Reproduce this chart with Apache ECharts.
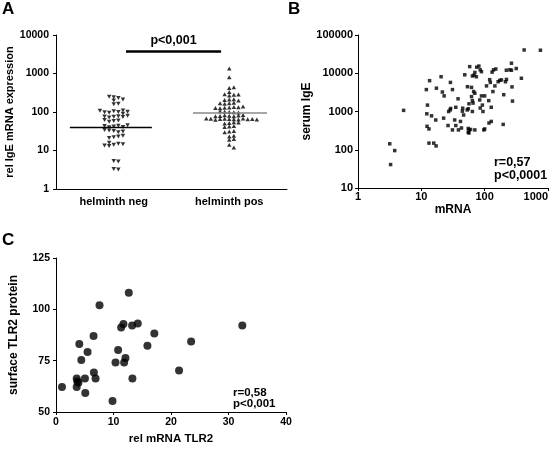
<!DOCTYPE html>
<html><head><meta charset="utf-8">
<script src="https://cdn.jsdelivr.net/npm/echarts@6/dist/echarts.min.js"></script>
<style>html,body{margin:0;padding:0;background:#fff}#c{width:558px;height:449px}</style>
</head><body><div id="c"></div>
<script>
// ---------- Panel A ----------
const groupsA = ['helminth neg', 'helminth pos'];
const negA = [240, 230, 250, 200, 210, 160, 165, 105, 100, 95, 110, 90, 98, 102, 108,
  75, 78, 72, 76, 74, 80, 58, 60, 56, 62, 42, 44, 40, 41, 43, 45, 32, 30, 33, 31, 34,
  22, 23, 21, 24, 14, 15, 13, 14.5, 13.5, 16, 5.3, 5.2, 3.3, 3.2];
const posA = [1350, 800, 420, 440, 330, 280, 270, 290, 285, 210, 215, 205, 200, 170, 175,
  165, 168, 130, 135, 128, 132, 125, 138, 127, 100, 98, 102, 97, 104, 80, 82, 78, 81, 79,
  83, 77, 66, 65, 67, 68, 64, 66, 65, 67, 63, 66, 68, 64, 52, 54, 50, 53, 42, 43, 41,
  31, 32, 30, 23, 24, 19, 20, 14, 12];
const medianA = [40, 97];
const pTextA = 'p<0,001';
const sigLevelA = 3800;
const ticksAy = ['1', '10', '100', '1000', '10000'];
const titleAy = 'rel IgE mRNA expression';

// ---------- Panel B ----------
const mrnaB = [3.17, 3.27, 3.8, 5.25, 12, 12.5, 12.2, 12.3, 13.2, 13.5, 13.2, 15.7, 17.1, 14.5, 16.9,
  17.3, 20.5, 21.5, 22.9, 22.5, 26.4, 28.8, 27, 28.5, 29, 31, 31, 33.6, 35, 38, 35, 38.5, 43, 41.5,
  46.5, 44.5, 48.5, 53.5, 55, 56.5, 56.5, 56.5, 60, 58, 64, 62, 64, 65.5, 64, 67, 70, 70, 68, 70,
  75, 74, 81, 85, 89, 83.5, 89, 100, 94, 92, 85, 97, 107, 116, 120, 123, 127, 127, 131, 135, 138,
  145, 150, 163, 173, 184, 200, 196, 213, 220, 221, 250, 265, 265, 270, 275, 315, 380, 420, 760,
  117, 55, 55, 53, 45, 62, 100];
const igeB = [143, 41, 95, 1070, 3740, 1470, 870, 410, 350, 6400, 149, 149, 126, 770, 600,
  4070, 8100, 3230, 2560, 670, 430, 5760, 1000, 1100, 1200, 3740, 330, 600, 1290, 2150, 430, 330, 370, 550,
  810, 1020, 9100, 4450, 1180, 1590, 330, 275, 340, 14900, 8500, 4270, 1920, 1660, 1000, 3320, 3000, 330, 8900, 10500,
  14400, 8100, 15400, 12300, 11000, 2000, 2560, 2560, 1000, 1470, 1230, 330, 4670, 1920, 6800, 5760, 1290, 550, 10700, 3320, 12300,
  4670, 12900, 6000, 6500, 6700, 2750, 460, 6000, 12000, 6900, 12300, 18300, 12000, 4400, 1870, 13300, 7400, 40600, 40000,
  500, 285, 360, 1100, 1220, 2450, 350];
const ticksBx = ['1', '10', '100', '1000'];
const ticksBy = ['10', '100', '1000', '10000', '100000'];
const statsB = ['r=0,57', 'p<0,0001'];

// ---------- Panel C ----------
const mrnaC = [1.04, 4.05, 4.4, 3.6, 3.6, 3.9, 3.7, 5.03, 5.09, 5.49, 6.53, 6.59, 6.88, 7.57, 9.83,
  10.35, 10.8, 11.33, 11.73, 11.85, 12.08, 12.66, 13.24, 13.29, 14.22, 15.9, 17.1, 21.4, 23.5, 32.4];
const proteinC = [62.2, 83.1, 75.3, 66.3, 62.2, 64.2, 64.8, 66.3, 59.3, 79.2, 87.0, 69.2, 66.3, 102, 55.4,
  74.1, 80.2, 91.1, 92.9, 74.1, 76.3, 108.1, 92.1, 66.3, 93.1, 82.3, 88.2, 70.2, 84.3, 92.1];
const statsC = ['r=0,58', 'p<0,001'];

// ---------- helpers ----------
const FONT = 'Liberation Sans, Arial, Helvetica, sans-serif';
const chart = echarts.init(document.getElementById('c'), null, {renderer: 'canvas'});

// simple beeswarm layout (column grid) for the dot plot
function swarm(values, center) {
  const colPx = 4.6, rowPx = 3.0, pxPerDecade = 154 / 4, unitsPerPx = 2 / 231;
  const placed = [];
  const out = [];
  values.forEach(v => {
    const py = -Math.log10(v) * pxPerDecade;
    for (let i = 0; i < 60; i++) {
      const k = i === 0 ? 0 : (i % 2 ? (i + 1) / 2 : -i / 2);
      const ok = placed.every(p => p.k !== k || Math.abs(p.py - py) >= rowPx);
      if (ok) { placed.push({k, py}); out.push([center + k * colPx * unitsPerPx, v]); break; }
    }
  });
  return out;
}
function logLabel(list) {
  return v => {
    const s = String(Math.round(v));
    return list.indexOf(s) >= 0 ? s : '';
  };
}
const axisLineS = {show: true, onZero: false, lineStyle: {color: '#000', width: 1}};
const tickS = {show: true, inside: false, length: 3, lineStyle: {color: '#000', width: 1}};
const lbl = (size, margin) => ({color: '#000', fontFamily: FONT, fontWeight: 'bold', fontSize: size, margin: margin});
const nameS = size => ({color: '#000', fontFamily: FONT, fontWeight: 'bold', fontSize: size});

const option = {
  animation: false,
  backgroundColor: '#fff',
  grid: [
    {left: 56, top: 35, width: 231, height: 154},
    {left: 358, top: 35, width: 190, height: 153},
    {left: 56, top: 258, width: 230, height: 154}
  ],
  xAxis: [
    {gridIndex: 0, type: 'value', min: 0.5, max: 2.5, interval: 0.5,
      axisLine: axisLineS, axisTick: {show: false}, splitLine: {show: false},
      axisLabel: Object.assign(lbl(11, 7), {formatter: v => (v === 1 ? groupsA[0] : v === 2 ? groupsA[1] : '')})},
    {gridIndex: 1, type: 'log', logBase: 10, min: 1, max: 1000,
      axisLine: axisLineS, axisTick: tickS, splitLine: {show: false}, minorTick: {show: false},
      axisLabel: Object.assign(lbl(11, 3), {formatter: logLabel(ticksBx), alignMaxLabel: 'right'}),
      name: 'mRNA', nameLocation: 'middle', nameGap: 16, nameTextStyle: nameS(12)},
    {gridIndex: 2, type: 'value', min: 0, max: 40, interval: 10,
      axisLine: axisLineS, axisTick: tickS, splitLine: {show: false},
      axisLabel: lbl(10.5, 5),
      name: 'rel mRNA TLR2', nameLocation: 'middle', nameGap: 21, nameTextStyle: nameS(11.5)}
  ],
  yAxis: [
    {gridIndex: 0, type: 'log', logBase: 10, min: 1, max: 10000,
      axisLine: axisLineS, axisTick: tickS, splitLine: {show: false},
      axisLabel: Object.assign(lbl(10.5, 7), {formatter: logLabel(ticksAy)}),
      name: titleAy, nameLocation: 'middle', nameGap: 40, nameTextStyle: nameS(11)},
    {gridIndex: 1, type: 'log', logBase: 10, min: 10, max: 100000,
      axisLine: axisLineS, axisTick: tickS, splitLine: {show: false},
      axisLabel: Object.assign(lbl(11, 5), {formatter: logLabel(ticksBy)}),
      name: 'serum IgE', nameLocation: 'middle', nameGap: 43, nameTextStyle: nameS(12)},
    {gridIndex: 2, type: 'value', min: 50, max: 125, interval: 25,
      axisLine: axisLineS, axisTick: tickS, splitLine: {show: false},
      axisLabel: lbl(10.5, 6),
      name: 'surface TLR2 protein', nameLocation: 'middle', nameGap: 36, nameTextStyle: nameS(12)}
  ],
  series: [
    {type: 'scatter', xAxisIndex: 0, yAxisIndex: 0, symbol: 'triangle', symbolRotate: 180,
      symbolSize: [4.5, 4], itemStyle: {color: '#000'}, data: swarm(negA, 1), silent: true,
      markLine: {silent: true, symbol: 'none', label: {show: false},
        lineStyle: {color: '#000', width: 1.3, type: 'solid'},
        data: [[{coord: [0.62, medianA[0]]}, {coord: [1.33, medianA[0]]}]]}},
    {type: 'scatter', xAxisIndex: 0, yAxisIndex: 0, symbol: 'triangle',
      symbolSize: [4.5, 4], itemStyle: {color: '#000'}, data: swarm(posA, 2), silent: true,
      markLine: {silent: true, symbol: 'none',
        data: [
          [{coord: [1.686, medianA[1]], lineStyle: {color: '#888', width: 1.6, type: 'solid'}, label: {show: false}},
           {coord: [2.327, medianA[1]]}],
          [{coord: [1.106, sigLevelA], lineStyle: {color: '#000', width: 2.5, type: 'solid'},
            label: {show: true, formatter: pTextA, position: 'insideMiddleTop', distance: 4,
              color: '#000', fontFamily: FONT, fontWeight: 'bold', fontSize: 12.5}},
           {coord: [1.929, sigLevelA]}]
        ]}},
    {type: 'scatter', xAxisIndex: 1, yAxisIndex: 1, symbol: 'rect', symbolSize: 3.5,
      itemStyle: {color: '#000'}, silent: true,
      data: mrnaB.map((x, i) => [x, igeB[i]])},
    {type: 'scatter', xAxisIndex: 2, yAxisIndex: 2, symbol: 'circle', symbolSize: 8,
      itemStyle: {color: '#000'}, silent: true,
      data: mrnaC.map((x, i) => [x, proteinC[i]])}
  ],
  graphic: [
    {type: 'text', left: 2, top: 1, style: {text: 'A', fill: '#000', font: 'bold 17px ' + FONT}},
    {type: 'text', left: 288, top: 1, style: {text: 'B', fill: '#000', font: 'bold 17px ' + FONT}},
    {type: 'text', left: 2, top: 232, style: {text: 'C', fill: '#000', font: 'bold 17px ' + FONT}},
    {type: 'text', left: 494, top: 156, style: {text: statsB[0], fill: '#000', font: 'bold 12.5px ' + FONT}},
    {type: 'text', left: 494, top: 169, style: {text: statsB[1], fill: '#000', font: 'bold 12.5px ' + FONT}},
    {type: 'text', left: 233, top: 387, style: {text: statsC[0], fill: '#000', font: 'bold 11.5px ' + FONT}},
    {type: 'text', left: 233, top: 398, style: {text: statsC[1], fill: '#000', font: 'bold 11.5px ' + FONT}}
  ]
};
chart.setOption(option);
</script>
</body></html>
